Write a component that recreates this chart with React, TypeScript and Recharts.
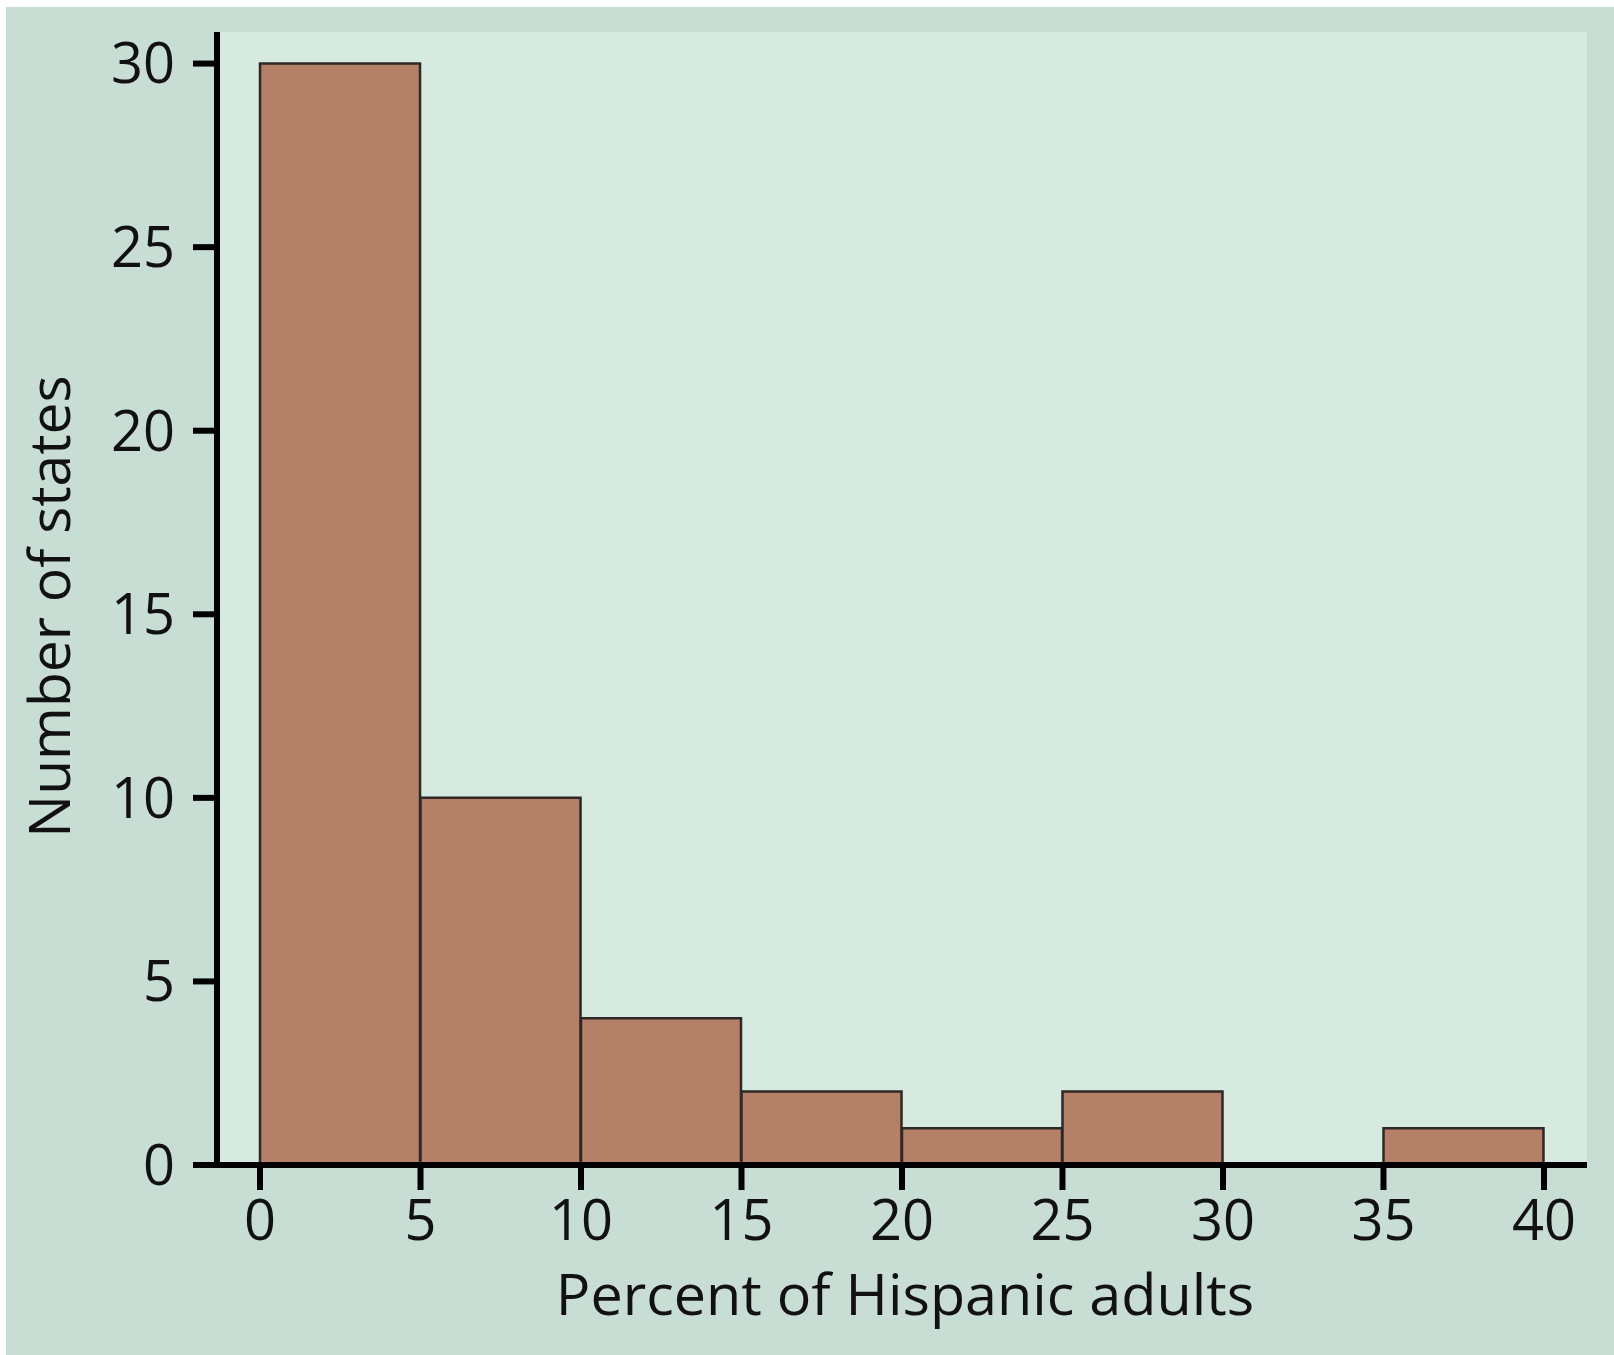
import React from 'react'
import { BarChart, Bar, XAxis, YAxis, CartesianGrid } from 'recharts'

// histogram bins (5 percentage points wide), x = bin centre
const binCenters = [2.5, 7.5, 12.5, 17.5, 22.5, 27.5, 32.5, 37.5]
const stateCounts = [30, 10, 4, 2, 1, 2, 0, 1]
const xTicks = [0, 5, 10, 15, 20, 25, 30, 35, 40]
const yTicks = [0, 5, 10, 15, 20, 25, 30]

const data = binCenters.map((x, i) => ({ x, count: stateCounts[i] }))

const font = '"Open Sans", "Noto Sans", sans-serif'
const tickStyle = { fill: '#111', fontSize: 56, fontFamily: font }

const App = () => {
  return (
    <div style={{ position: 'absolute', left: 0, top: 0, width: 1614, height: 1355, background: '#fff' }}>
      <div style={{ position: 'absolute', left: 6, top: 7, right: 0, bottom: 0, background: '#c8ddd3' }} />
      <div style={{ position: 'absolute', left: 0, top: 0 }}>
        <BarChart
          width={1614}
          height={1355}
          data={data}
          margin={{ top: 32, right: 27, bottom: 0, left: 97 }}
          barCategoryGap={0}
          barGap={0}
        >
          <CartesianGrid horizontal={false} vertical={false} fill="#d6eae0" />
          <XAxis
            dataKey="x"
            type="number"
            domain={[-1.34, 41.34]}
            ticks={xTicks}
            allowDataOverflow
            height={190}
            axisLine={{ stroke: '#000', strokeWidth: 6 }}
            tickLine={{ stroke: '#000', strokeWidth: 6 }}
            tickSize={25}
            tickMargin={10}
            tick={tickStyle}
            label={{
              content: ({ viewBox }: any) => (
                <text
                  x={viewBox.x + viewBox.width / 2 + 3}
                  y={1315}
                  textAnchor="middle"
                  fontSize={57.5}
                  fontFamily={font}
                  fill="#111"
                >
                  Percent of Hispanic adults
                </text>
              ),
            }}
          />
          <YAxis
            type="number"
            domain={[0, 30.86]}
            ticks={yTicks}
            allowDataOverflow
            width={120}
            axisLine={{ stroke: '#000', strokeWidth: 6 }}
            tickLine={{ stroke: '#000', strokeWidth: 6 }}
            tickSize={24}
            tickMargin={18}
            tick={tickStyle}
            label={{
              content: ({ viewBox }: any) => {
                const cy = viewBox.y + viewBox.height / 2 + 8
                return (
                  <text
                    x={70}
                    y={cy}
                    transform={`rotate(-90, 70, ${cy})`}
                    textAnchor="middle"
                    fontSize={57}
                    fontFamily={font}
                    fill="#111"
                  >
                    Number of states
                  </text>
                )
              },
            }}
          />
          <Bar
            dataKey="count"
            fill="#b48068"
            stroke="#2e2826"
            strokeWidth={2.5}
            isAnimationActive={false}
          />
        </BarChart>
      </div>
    </div>
  )
}

export default App
